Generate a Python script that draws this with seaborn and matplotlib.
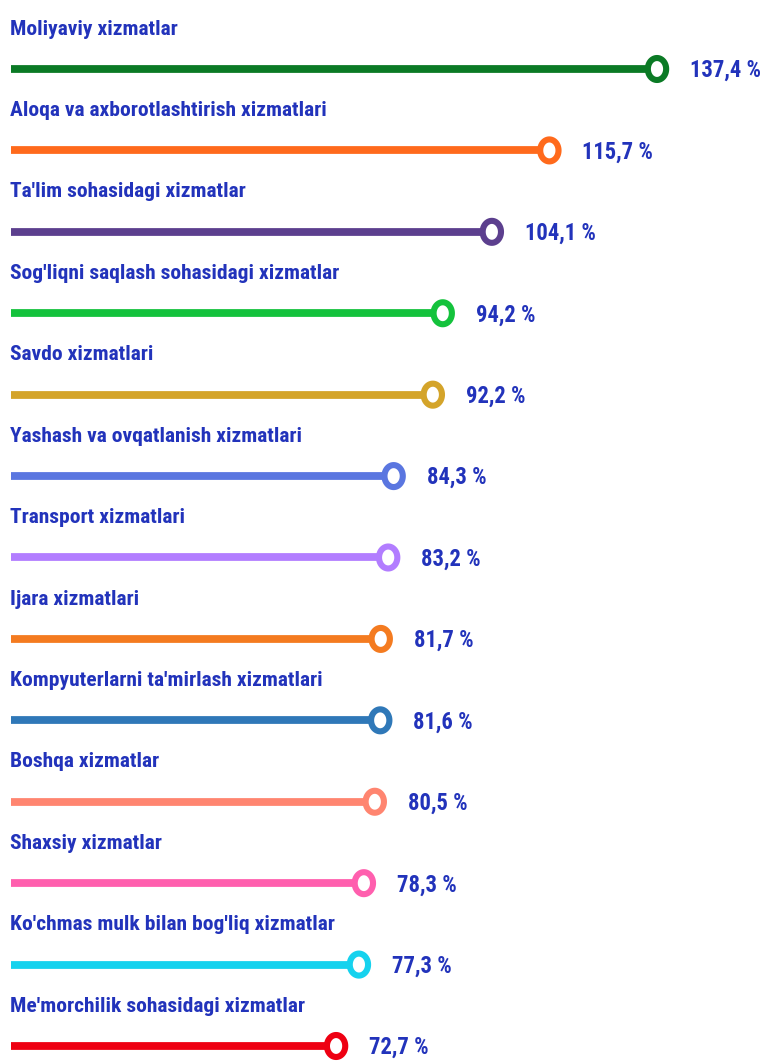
import matplotlib
matplotlib.use("Agg")
import matplotlib.pyplot as plt
import seaborn as sns
import pandas as pd
import numpy as np
from matplotlib import font_manager as fm
from matplotlib.font_manager import FontProperties
from matplotlib.path import Path

categories = [
    "Moliyaviy xizmatlar",
    "Aloqa va axborotlashtirish xizmatlari",
    "Ta'lim sohasidagi xizmatlar",
    "Sog'liqni saqlash sohasidagi xizmatlar",
    "Savdo xizmatlari",
    "Yashash va ovqatlanish xizmatlari",
    "Transport xizmatlari",
    "Ijara xizmatlari",
    "Kompyuterlarni ta'mirlash xizmatlari",
    "Boshqa xizmatlar",
    "Shaxsiy xizmatlar",
    "Ko'chmas mulk bilan bog'liq xizmatlar",
    "Me'morchilik sohasidagi xizmatlar",
]
values = [137.4, 115.7, 104.1, 94.2, 92.2, 84.3, 83.2, 81.7, 81.6, 80.5, 78.3, 77.3, 72.7]
value_labels = ["137,4 %", "115,7 %", "104,1 %", "94,2 %", "92,2 %", "84,3 %", "83,2 %",
                "81,7 %", "81,6 %", "80,5 %", "78,3 %", "77,3 %", "72,7 %"]
colors = ["#0b7a25", "#ff6a1c", "#5c3f8e", "#14c23c", "#d4a42a", "#5a76e0", "#b27dff",
          "#f47b20", "#2f78b8", "#ff8570", "#ff5fae", "#16d2ee", "#ee0012"]

sns.set_theme(style="white")

# pick a condensed bold font if available
files = sorted({f.fname for f in fm.fontManager.ttflist})
cond = [f for f in files if any(k in f.lower() for k in ("narrow", "condensed", "cond"))]
prefs = ["robotocondensed-bold.", "liberationsansnarrow-bold.", "barlowcondensed-bold.",
         "notosans-condensedbold.", "dejavusanscondensed-bold."]
chosen = None
for p in prefs:
    for f in cond:
        if p in f.lower().replace(" ", ""):
            chosen = f
            break
    if chosen:
        break
if chosen:
    fp_base = FontProperties(fname=chosen)
else:
    fp_base = FontProperties(family="DejaVu Sans", weight="bold", stretch="condensed")

text_color = "#2233bb"
df = pd.DataFrame({"cat": categories, "val": values, "pos": range(len(values))})

fig = plt.figure(figsize=(7.63, 10.61), dpi=100)
ax = fig.add_axes([0, 0, 1, 1])
renderer = fig.canvas.get_renderer()


def width_px(s, size):
    fp = fp_base.copy()
    fp.set_size(size)
    t = fig.text(0, 0, s, fontproperties=fp)
    w = t.get_window_extent(renderer).width
    t.remove()
    return w

label_size = 20 * 167.0 / width_px(categories[0], 20)
value_size = 20 * 71.0 / width_px(value_labels[0], 20)
fp_label = fp_base.copy(); fp_label.set_size(label_size)
fp_value = fp_base.copy(); fp_value.set_size(value_size)

# horizontal scale: x_px = offset + px_per_unit * value
px_per_unit = 4.96
offset_px = 657 - px_per_unit * values[0]
xmin = (0 - offset_px) / px_per_unit
xmax = (763 - offset_px) / px_per_unit
start = (11 - offset_px) / px_per_unit
text_gap = 33 / px_per_unit

# slightly tall elliptical ring marker, as in the reference
t = np.linspace(0, 2 * np.pi, 80)
ring = Path(np.column_stack([np.cos(t), 1.2 * np.sin(t)]), closed=True)

ax.hlines(df["pos"], start, df["val"], colors=colors, lw=5.6, zorder=1)
sns.scatterplot(data=df, x="val", y="pos", hue="cat",
                palette=dict(zip(categories, colors)), s=250, linewidth=4.4,
                marker=ring, legend=False, zorder=3, ax=ax)
coll = ax.collections[-1]
fc = coll.get_facecolors()
coll.set_edgecolors(fc)
coll.set_facecolors("white")

for i, (cat, v, lab) in enumerate(zip(categories, values, value_labels)):
    ax.text(start - 0.2, i - 0.49, cat, ha="left", va="center",
            fontproperties=fp_label, color=text_color)
    ax.text(v + text_gap, i + 0.02, lab, ha="left", va="center",
            fontproperties=fp_value, color=text_color)

# y: first row at 69 px, last at 1046 px from top
step = (1046 - 69) / 12.0
ax.set_xlim(xmin, xmax)
ax.set_ylim(12 + (1061 - 1046) / step, -69 / step)
ax.axis("off")
fig.savefig("out.png", dpi=100, facecolor="white")
